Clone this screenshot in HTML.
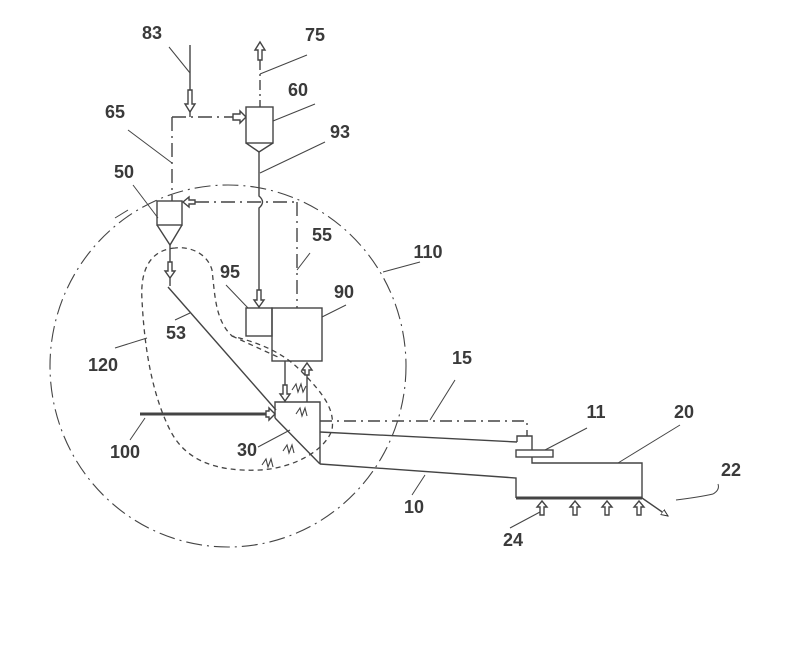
<!DOCTYPE html>
<html><head><meta charset="utf-8"><style>
html,body{margin:0;padding:0;background:#fff;}
svg text{font-family:"Liberation Sans",sans-serif;font-weight:bold;font-size:18px;fill:#3a3a3a;text-anchor:middle;}
</style></head><body>
<svg width="800" height="640" viewBox="0 0 800 640" xmlns="http://www.w3.org/2000/svg">
<defs>
<marker id="ha" markerWidth="8" markerHeight="8" refX="7" refY="4" orient="auto" markerUnits="userSpaceOnUse">
<path d="M0,1 L7,4 L0,7 Z" fill="#fff" stroke="#333" stroke-width="1"/></marker>
</defs>
<g stroke="#444" stroke-width="1.4" fill="none">
<ellipse cx="228" cy="366" rx="178" ry="181" stroke-dasharray="16,5,2,5" stroke-width="1.1"/>
<line x1="190" y1="45" x2="190" y2="117"/>
<path d="M188,90 h4 v14 h3 l-5,8 -5,-8 h3 z" fill="#fff"/>
<line x1="172" y1="117" x2="234" y2="117" stroke-dasharray="14,5,2,5"/>
<path d="M233,114 h7 v-3 l6,6 -6,6 v-3 h-7 z" fill="#fff"/>
<rect x="246" y="107" width="27" height="36" fill="#fff"/>
<path d="M246,143 L259,152 L273,143"/>
<line x1="260" y1="60" x2="260" y2="107" stroke-dasharray="10,4,2,4"/>
<path d="M258,60 v-10 h-3 l5,-8 5,8 h-3 v10 z" fill="#fff"/>
<path d="M259,152 L259,196 Q266,202 259,208 L259,308"/>
<path d="M257,290 h4 v10 h3 l-5,7 -5,-7 h3 z" fill="#fff"/>
<line x1="172" y1="117" x2="172" y2="201" stroke-dasharray="14,5,2,5"/>
<rect x="157" y="201" width="25" height="24" fill="#fff"/>
<path d="M157,225 L170,245 L182,225"/>
<line x1="195" y1="202" x2="297" y2="202" stroke-dasharray="14,5,2,5"/>
<path d="M195,200 h-6 v-3 l-6,5 6,5 v-3 h6 z" fill="#fff"/>
<line x1="297" y1="202" x2="297" y2="308" stroke-dasharray="14,5,2,5"/>
<line x1="170" y1="245" x2="170" y2="286"/>
<path d="M168,262 h4 v9 h3 l-5,7 -5,-7 h3 z" fill="#fff"/>
<line x1="168" y1="287" x2="276" y2="410"/>
<rect x="246" y="308" width="26" height="28"/>
<rect x="272" y="308" width="50" height="53"/>
<line x1="285" y1="361" x2="285" y2="402"/>
<path d="M283,385 h4 v9 h3 l-5,7 -5,-7 h3 z" fill="#fff"/>
<line x1="307" y1="372" x2="307" y2="402"/>
<path d="M305,375 h4 v-5 h3 l-5,-7 -5,7 h3 z" fill="#fff"/>
<path d="M275,418 L275,402 L320,402 L320,464"/>
<path d="M275,418 L320,464"/>
<line x1="140" y1="414" x2="268" y2="414" stroke-width="3"/>
<path d="M266,411 h3 v-3 l6,6 -6,6 v-3 h-3 z" fill="#fff"/>
<path d="M320,421 L527,421 L527,436" stroke-dasharray="12,5,2,5"/>
<line x1="320" y1="432" x2="517" y2="442"/>
<path d="M517,442 L517,436 L532,436 L532,450"/>
<rect x="516" y="450" width="37" height="7" fill="#fff"/>
<path d="M532,457 L532,463 L642,463 L642,498"/>
<path d="M320,464 L516,478 L516,498"/>
<line x1="516" y1="498" x2="642" y2="498" stroke-width="3"/>
<path d="M540,515 v-8 h-3 l5,-6 5,6 h-3 v8 z" fill="#fff"/>
<path d="M573,515 v-8 h-3 l5,-6 5,6 h-3 v8 z" fill="#fff"/>
<path d="M605,515 v-8 h-3 l5,-6 5,6 h-3 v8 z" fill="#fff"/>
<path d="M637,515 v-8 h-3 l5,-6 5,6 h-3 v8 z" fill="#fff"/>
<line x1="642" y1="498" x2="668" y2="516" marker-end="url(#ha)"/>
<path d="M676,500 Q700,497 713,494 Q720,490 718,484" stroke-width="1"/>
<path d="M175,248 C150,250 140,270 142,300 C144,340 150,390 170,430 C185,460 215,472 260,470 C295,468 325,450 332,430 C335,410 325,395 300,370 C280,350 255,342 232,336 C215,320 215,295 212,270 C208,255 192,246 175,248 Z" stroke-dasharray="5,4" stroke-width="1.3"/>
<path d="M232,336 L280,358" stroke-dasharray="5,4" stroke-width="1.3"/>
<path d="M292,390 l4,-6 2,8 3,-8 2,8 3,-6" stroke-width="1.1"/>
<path d="M296,414 l4,-6 2,8 3,-8 2,8" stroke-width="1.1"/>
<path d="M283,451 l4,-6 2,8 3,-8 2,8" stroke-width="1.1"/>
<path d="M262,465 l4,-6 2,8 3,-8 2,8" stroke-width="1.1"/>
<g stroke-width="1">
<line x1="169" y1="47" x2="190" y2="73"/>
<line x1="260" y1="74" x2="307" y2="55"/>
<line x1="273" y1="121" x2="315" y2="104"/>
<line x1="260" y1="173" x2="325" y2="142"/>
<line x1="128" y1="130" x2="172" y2="163"/>
<line x1="133" y1="185" x2="158" y2="218"/>
<line x1="297" y1="270" x2="310" y2="253"/>
<line x1="383" y1="272" x2="420" y2="262"/>
<line x1="226" y1="285" x2="248" y2="308"/>
<line x1="322" y1="317" x2="346" y2="305"/>
<line x1="175" y1="320" x2="190" y2="313"/>
<line x1="115" y1="348" x2="147" y2="338"/>
<line x1="130" y1="440" x2="145" y2="418"/>
<line x1="258" y1="447" x2="290" y2="430"/>
<line x1="430" y1="420" x2="455" y2="380"/>
<line x1="545" y1="450" x2="587" y2="428"/>
<line x1="618" y1="463" x2="680" y2="425"/>
<line x1="425" y1="475" x2="412" y2="495"/>
<line x1="510" y1="528" x2="540" y2="512"/>
<line x1="115" y1="218" x2="128" y2="210"/>
</g>
</g>
<text x="152" y="39">83</text>
<text x="315" y="41">75</text>
<text x="298" y="96">60</text>
<text x="340" y="138">93</text>
<text x="115" y="118">65</text>
<text x="124" y="178">50</text>
<text x="322" y="241">55</text>
<text x="428" y="258">110</text>
<text x="230" y="278">95</text>
<text x="344" y="298">90</text>
<text x="176" y="339">53</text>
<text x="103" y="371">120</text>
<text x="125" y="458">100</text>
<text x="247" y="456">30</text>
<text x="462" y="364">15</text>
<text x="596" y="418">11</text>
<text x="684" y="418">20</text>
<text x="731" y="476">22</text>
<text x="414" y="513">10</text>
<text x="513" y="546">24</text>
</svg>
</body></html>
